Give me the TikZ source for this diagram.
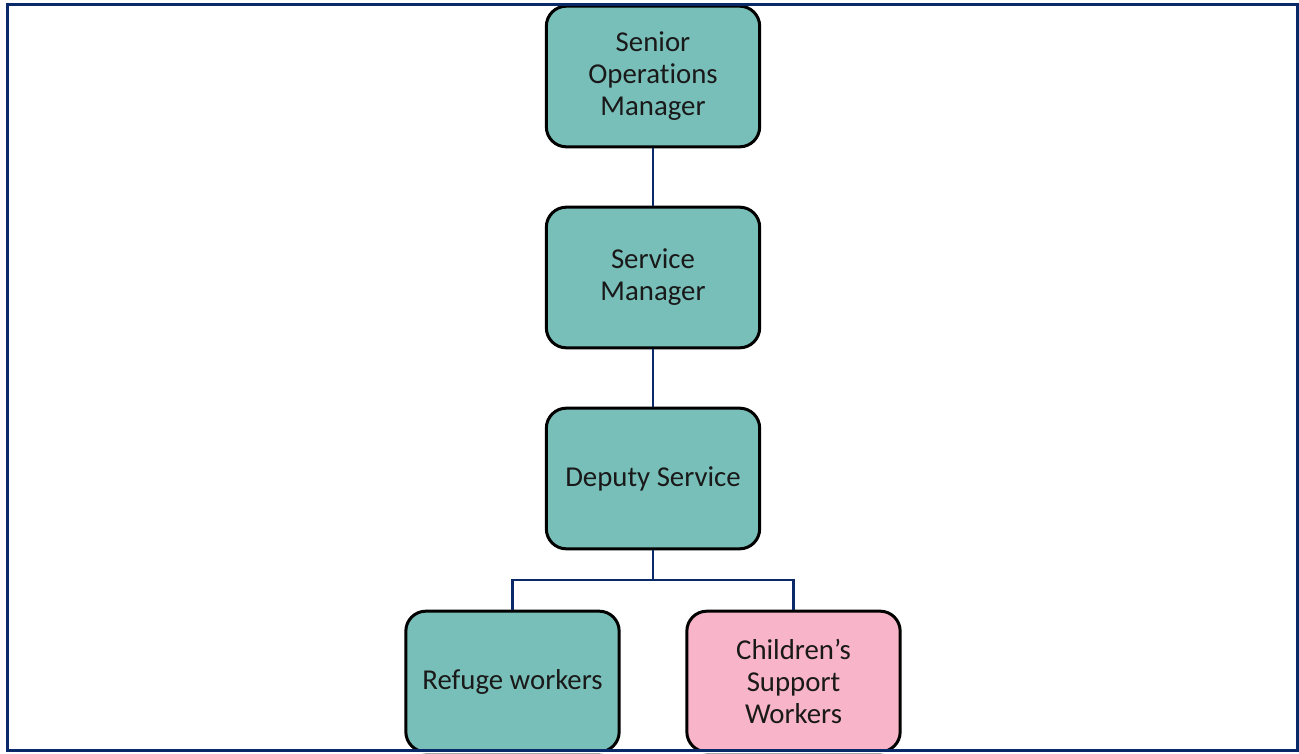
\documentclass[tikz,border=0pt]{standalone}
\usepackage{fontspec}
\setmainfont{Carlito}[Ligatures=NoCommon]
\begin{document}
\begin{tikzpicture}[x=0.75pt,y=-0.75pt,
  role/.style={draw=black, line width=2.25pt, rounded corners=15pt, minimum width=160pt, minimum height=105.5pt, align=center, inner sep=0pt, font=\fontsize{21.6}{24}\selectfont, text=black!90},
  tealbox/.style={role, fill=tealc},
  pinkbox/.style={role, fill=pinkc},
  link/.style={draw=navy, line width=1.9pt}]
\definecolor{tealc}{HTML}{79BFB9}
\definecolor{pinkc}{HTML}{F8B4C8}
\definecolor{navy}{HTML}{0A2968}
\useasboundingbox (0,0) rectangle (1299,753);
\node[tealbox] (som) at (653,76.5) {Senior\\Operations\\Manager};
\node[tealbox] (sm) at (653,277.5) {Service\\Manager};
\node[tealbox] (ds) at (653,478.5) {Deputy Service};
\node[tealbox] (rw) at (512.5,681.5) {Refuge workers};
\node[pinkbox] (cw) at (793.5,681.5) {Children’s\\Support\\Workers};
\coordinate (bar) at (653,580);
\draw[link] (som.south) -- (sm.north);
\draw[link] (sm.south) -- (ds.north);
\draw[link] (ds.south) -- (bar) -| (rw.north);
\draw[link] (bar) -| (cw.north);
\fill[white] (0,751.5) rectangle (1299,753);
\draw[navy, line width=2.25pt] (7,4) rectangle (1297,750);
\end{tikzpicture}
\end{document}
